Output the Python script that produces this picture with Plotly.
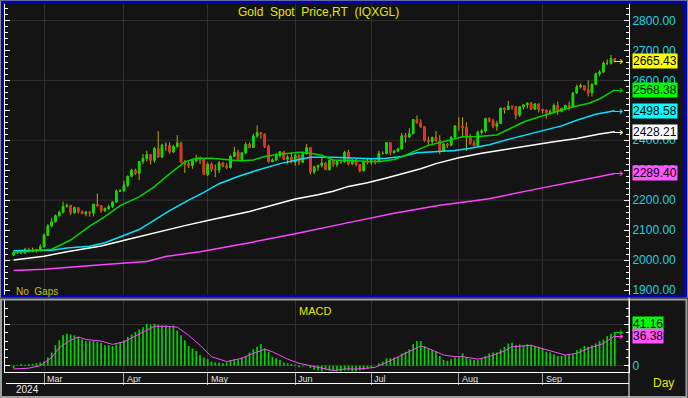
import plotly.graph_objects as go

# ------------------------------------------------------------------ data
month_labels = ["Mar", "Apr", "May", "Jun", "Jul", "Aug", "Sep"]
month_start_idx = [8, 29, 51, 74, 94, 117, 139]
year_label = "2024"
title_text = "Gold\u00a0\u00a0Spot\u00a0\u00a0Price,RT\u00a0\u00a0(IQXGL)"

open_ = [2017, 2025, 2025, 2024, 2035, 2031, 2033, 2034, 2044, 2083,
         2114, 2128, 2148, 2160, 2179, 2182, 2158, 2175, 2162, 2155,
         2160, 2157, 2186, 2181, 2165, 2172, 2178, 2194, 2230, 2232,
         2250, 2280, 2300, 2290, 2329, 2339, 2352, 2333, 2372, 2344,
         2383, 2383, 2361, 2379, 2391, 2327, 2322, 2316, 2332, 2337,
         2335, 2286, 2320, 2303, 2301, 2324, 2314, 2309, 2346, 2360,
         2336, 2358, 2386, 2376, 2414, 2425, 2421, 2379, 2329, 2334,
         2350, 2361, 2337, 2343, 2327, 2350, 2327, 2355, 2375, 2294,
         2311, 2316, 2324, 2302, 2333, 2319, 2329, 2328, 2360, 2322,
         2334, 2319, 2298, 2327, 2326, 2332, 2330, 2356, 2356, 2392,
         2359, 2364, 2371, 2415, 2411, 2422, 2469, 2459, 2445, 2400,
         2396, 2409, 2398, 2364, 2387, 2384, 2410, 2447, 2446, 2443,
         2410, 2390, 2382, 2427, 2431, 2472, 2465, 2447, 2456, 2507,
         2503, 2514, 2512, 2484, 2512, 2518, 2524, 2504, 2521, 2503,
         2500, 2493, 2495, 2516, 2497, 2506, 2516, 2512, 2558, 2578,
         2582, 2569, 2559, 2586, 2622, 2628, 2657, 2657, 2672]
high_ = [2031, 2033, 2035, 2041, 2041, 2042, 2037, 2052, 2088, 2120,
         2141, 2152, 2165, 2195, 2189, 2185, 2179, 2175, 2166, 2164,
         2163, 2188, 2222, 2184, 2176, 2185, 2196, 2236, 2236, 2265,
         2281, 2305, 2305, 2330, 2354, 2365, 2354, 2378, 2431, 2389,
         2393, 2393, 2385, 2417, 2395, 2334, 2334, 2338, 2352, 2346,
         2336, 2326, 2326, 2319, 2331, 2327, 2323, 2351, 2378, 2368,
         2359, 2393, 2393, 2422, 2450, 2427, 2422, 2385, 2340, 2358,
         2364, 2364, 2351, 2360, 2354, 2352, 2363, 2388, 2378, 2315,
         2318, 2342, 2327, 2336, 2333, 2332, 2333, 2365, 2368, 2335,
         2335, 2321, 2332, 2338, 2338, 2336, 2365, 2363, 2393, 2392,
         2366, 2375, 2425, 2424, 2440, 2469, 2483, 2470, 2447, 2412,
         2413, 2431, 2417, 2390, 2391, 2413, 2451, 2477, 2477, 2460,
         2420, 2400, 2432, 2438, 2475, 2477, 2472, 2465, 2509, 2510,
         2531, 2515, 2514, 2513, 2521, 2526, 2527, 2524, 2523, 2505,
         2503, 2503, 2523, 2529, 2509, 2519, 2529, 2560, 2586, 2589,
         2582, 2600, 2592, 2626, 2634, 2664, 2670, 2685, 2674]
low_ = [2013, 2020, 2020, 2021, 2025, 2026, 2025, 2032, 2043, 2080,
        2109, 2126, 2146, 2155, 2175, 2150, 2155, 2155, 2154, 2146,
        2145, 2146, 2180, 2158, 2161, 2168, 2174, 2191, 2228, 2228,
        2244, 2276, 2284, 2267, 2320, 2330, 2319, 2325, 2341, 2343,
        2364, 2355, 2359, 2375, 2325, 2291, 2307, 2305, 2326, 2321,
        2285, 2280, 2295, 2277, 2291, 2310, 2303, 2306, 2345, 2334,
        2330, 2354, 2373, 2376, 2409, 2405, 2374, 2325, 2326, 2331,
        2341, 2335, 2322, 2323, 2315, 2317, 2326, 2353, 2286, 2287,
        2298, 2309, 2302, 2299, 2311, 2310, 2322, 2326, 2316, 2317,
        2313, 2293, 2298, 2319, 2318, 2319, 2327, 2353, 2353, 2350,
        2354, 2360, 2370, 2392, 2409, 2421, 2455, 2442, 2395, 2384,
        2385, 2396, 2353, 2364, 2375, 2380, 2409, 2432, 2410, 2364,
        2385, 2381, 2382, 2419, 2425, 2460, 2440, 2432, 2455, 2489,
        2500, 2502, 2470, 2478, 2503, 2506, 2502, 2503, 2493, 2490,
        2472, 2486, 2490, 2485, 2493, 2500, 2500, 2511, 2556, 2573,
        2565, 2546, 2546, 2586, 2614, 2624, 2651, 2653, 2660]
close_ = [2025, 2025, 2024, 2035, 2031, 2033, 2034, 2044, 2083, 2114,
          2128, 2148, 2160, 2179, 2182, 2158, 2175, 2162, 2155, 2160,
          2157, 2186, 2181, 2165, 2172, 2178, 2194, 2230, 2232, 2250,
          2280, 2300, 2290, 2329, 2339, 2352, 2333, 2372, 2344, 2383,
          2383, 2361, 2379, 2391, 2327, 2322, 2316, 2332, 2337, 2335,
          2286, 2320, 2303, 2301, 2324, 2314, 2309, 2346, 2360, 2336,
          2358, 2386, 2376, 2414, 2425, 2421, 2379, 2329, 2334, 2350,
          2361, 2337, 2343, 2327, 2350, 2327, 2355, 2375, 2294, 2311,
          2316, 2324, 2302, 2333, 2319, 2329, 2328, 2360, 2322, 2334,
          2319, 2298, 2327, 2326, 2332, 2330, 2356, 2356, 2392, 2359,
          2364, 2371, 2415, 2411, 2422, 2469, 2459, 2445, 2400, 2396,
          2409, 2398, 2364, 2387, 2384, 2410, 2447, 2446, 2443, 2410,
          2390, 2382, 2427, 2431, 2472, 2465, 2447, 2456, 2507, 2503,
          2514, 2512, 2484, 2512, 2518, 2524, 2504, 2521, 2503, 2500,
          2493, 2495, 2516, 2497, 2506, 2516, 2512, 2558, 2578, 2582,
          2569, 2559, 2586, 2622, 2628, 2657, 2657, 2672, 2665.43]
days = list(range(len(close_)))

ma_green_idx = [0, 10, 15, 20, 24, 28, 33, 37, 41, 45, 48, 52, 57, 60, 63, 66, 69, 72, 75,
                78, 81, 84, 88, 92, 96, 100, 103, 106, 109, 113, 116, 118, 122, 127, 130,
                134, 138, 142, 147, 151, 154, 158]
ma_green = [2025, 2036, 2067, 2113, 2145, 2182, 2211, 2245, 2288, 2328, 2340, 2340, 2334,
            2332, 2334, 2346, 2352, 2357, 2360, 2357, 2350, 2334, 2332, 2328, 2328, 2336,
            2350, 2367, 2383, 2395, 2405, 2412, 2413, 2418, 2436, 2461, 2478, 2493, 2512,
            2523, 2538, 2568.38]
ma_cyan_idx = [0, 10, 14, 20, 24, 28, 33, 37, 41, 46, 50, 54, 59, 64, 70, 75, 78, 84, 89,
               94, 98, 102, 106, 111, 116, 120, 125, 130, 135, 139, 144, 148, 153, 158]
ma_cyan = [2031, 2033, 2040, 2046, 2058, 2077, 2102, 2133, 2165, 2200, 2226, 2255, 2279,
           2300, 2322, 2336, 2343, 2343, 2340, 2338, 2340, 2346, 2358, 2362, 2366, 2373,
           2385, 2403, 2420, 2432, 2448, 2467, 2487, 2498.58]
ma_white_idx = [0, 8, 14, 23, 31, 38, 45, 51, 58, 62, 68, 74, 80, 84, 88, 93, 98, 103, 107,
                111, 117, 123, 130, 136, 142, 148, 154, 158]
ma_white = [2000, 2013, 2028, 2047, 2072, 2094, 2115, 2132, 2151, 2162, 2183, 2204, 2218,
            2230, 2246, 2258, 2274, 2290, 2305, 2322, 2342, 2357, 2371, 2385, 2395, 2406,
            2421, 2428.21]
ma_mag_idx = [0, 8, 24, 35, 40, 49, 62, 75, 88, 100, 112, 125, 137, 150, 158]
ma_mag = [1965, 1969, 1985, 1995, 2012, 2028, 2058, 2090, 2125, 2156, 2183, 2205, 2236,
          2270, 2289.40]

# MACD panel
macd_hist = [-3, 1, 2, 1, 2, 2, 3, 4,
             5, 10, 16, 25, 31, 37, 39, 38, 37, 35,
             32, 30, 30, 30, 29, 28, 25, 25, 24, 26,
             29, 31, 35, 38, 41, 44, 47, 51, 50, 51,
             50, 49, 49, 48, 49, 43, 37, 31, 24, 21,
             18, 13, 10, 8, 5, 4, 4, 3, 4, 7,
             8, 8, 10, 12, 16, 20, 23, 26, 21, 17,
             11, 9, 7, 4, 3, 2, 1, -2, -1, 0,
             -3, -5, -6, -7, -5, -6, -6, -7, -7, -6,
             -6, -7, -7, -6, -5, -4,
             -2, 0, 3, 5, 9, 9, 10, 11, 15, 17,
             20, 26, 30, 30, 24, 21, 19, 17, 12, 7,
             6, 8, 10, 11, 15, 10, 8, 7, 7, 9,
             12, 15, 16, 16, 20, 23, 27, 28, 25, 26,
             25, 26, 25, 24, 23, 21, 17, 16, 14, 12,
             12, 13, 13, 14, 19, 21, 24, 23, 25, 27,
             30, 32, 36, 39, 41.16]
signal_idx = [0, 4, 7, 10, 12, 15, 17, 19, 23, 26, 29, 32, 34, 37, 40, 43, 46, 49, 52, 56,
              60, 63, 66, 68, 72, 75, 78, 81, 84, 87, 90, 93, 95, 99, 103, 107, 109, 113,
              116, 118, 122, 125, 129, 131, 134, 136, 138, 142, 145, 148, 151, 155, 158]
signal_vals = [-4, -3, 0, 10, 22, 31, 35, 32, 30, 26, 29, 36, 41, 48, 48, 47, 37, 25, 11, 5,
               9, 15, 20, 17, 8, 3, 0, -3, -6, -4, -4, -3, -2, 6, 15, 24, 21, 13,
               11, 11, 8, 11, 18, 23, 24, 25, 22, 17, 13, 15, 21, 27, 36.38]

last_price = 2665.43

# ------------------------------------------------------------------ style
W, H = 688, 398
def fx(p):
    return p / W
def fy(p):
    return 1 - p / H

FONT = "Liberation Sans, Arial, sans-serif"
ARROW_FONT = "DejaVu Sans, sans-serif"
BG = "#141414"
GRID = "#303030"
CYAN_TXT = "#1ed2e6"
UP = "#00e000"
DN = "#f02828"
WICK = "#b4aa00"
C_GREEN = "#00d400"
C_CYAN = "#00e4ff"
C_WHITE = "#ffffff"
C_MAG = "#ff44ff"
YEL = "#e6e600"
X_RANGE = [-2.26, 161.73]

fig = go.Figure()

for idx, vals, col in [(ma_mag_idx, ma_mag, C_MAG), (ma_white_idx, ma_white, C_WHITE),
                       (ma_cyan_idx, ma_cyan, C_CYAN), (ma_green_idx, ma_green, C_GREEN)]:
    fig.add_trace(go.Scatter(x=idx, y=vals, mode="lines", line=dict(color=col, width=1.5),
                             xaxis="x", yaxis="y", hoverinfo="skip", showlegend=False))

fig.add_trace(go.Candlestick(
    x=days, open=open_, high=high_, low=low_, close=close_,
    increasing=dict(line=dict(color=WICK, width=1), fillcolor=WICK),
    decreasing=dict(line=dict(color=WICK, width=1), fillcolor=WICK),
    whiskerwidth=0, xaxis="x", yaxis="y", hoverinfo="skip", showlegend=False))
body_hi = [max(o, c) for o, c in zip(open_, close_)]
body_lo = [min(o, c) for o, c in zip(open_, close_)]
fig.add_trace(go.Candlestick(
    x=days, open=open_, high=body_hi, low=body_lo, close=close_,
    increasing=dict(line=dict(color=UP, width=1), fillcolor=UP),
    decreasing=dict(line=dict(color=DN, width=1), fillcolor=DN),
    whiskerwidth=0, xaxis="x", yaxis="y", hoverinfo="skip", showlegend=False))

fig.add_trace(go.Bar(x=days, y=macd_hist, xaxis="x2", yaxis="y2", width=0.45,
                     marker=dict(color=C_GREEN, line=dict(width=0)),
                     hoverinfo="skip", showlegend=False))
fig.add_trace(go.Scatter(x=signal_idx, y=signal_vals, xaxis="x2", yaxis="y2", mode="lines",
                         line=dict(color=C_MAG, width=1), hoverinfo="skip", showlegend=False))

axis_font = dict(color=CYAN_TXT, size=12, family=FONT)
fig.update_layout(
    width=W, height=H, margin=dict(l=0, r=0, t=0, b=0),
    paper_bgcolor=BG, plot_bgcolor=BG, showlegend=False, hovermode=False,
    boxgap=0.45, barmode="overlay",
    xaxis=dict(domain=[fx(5), fx(629)], range=X_RANGE, anchor="y",
               tickmode="array", tickvals=month_start_idx, showgrid=True, gridcolor=GRID,
               gridwidth=1, ticks="", showticklabels=False, zeroline=False, showline=False,
               rangeslider=dict(visible=False), fixedrange=True),
    yaxis=dict(domain=[fy(296), fy(3)], range=[1880, 2858.4], anchor="x", side="right",
               tick0=0, dtick=100, tickformat=".2f", ticks="inside", ticklen=5, tickwidth=1,
               tickcolor="white",
               minor=dict(dtick=20, tick0=0, ticks="inside", ticklen=3, tickcolor="white",
                          tickwidth=1, showgrid=False),
               showline=True, linecolor="white", linewidth=1, mirror="ticks",
               showgrid=False, zeroline=False, tickfont=axis_font, fixedrange=True),
    xaxis2=dict(domain=[fx(5), fx(629)], range=X_RANGE, anchor="y2",
                tickmode="array", tickvals=month_start_idx, showgrid=True, gridcolor=GRID,
                ticks="outside", ticklen=12, tickwidth=1, tickcolor="#a8a8a8",
                showticklabels=False, showline=True, linecolor="white", linewidth=1,
                zeroline=False, fixedrange=True),
    yaxis2=dict(domain=[fy(372), fy(300)], range=[-7.7, 80.1], anchor="x2", side="right",
                tick0=0, dtick=50, ticks="inside", ticklen=5, tickwidth=1, tickcolor="white",
                minor=dict(dtick=10, tick0=0, ticks="inside", ticklen=3, tickcolor="white",
                           tickwidth=1, showgrid=False),
                showline=True, linecolor="white", linewidth=1, mirror="ticks",
                showgrid=True, gridcolor=GRID, zeroline=False, tickfont=axis_font,
                fixedrange=True),
)

shapes = []
for lv in [2000, 2200, 2400, 2600, 2800]:
    shapes.append(dict(type="line", xref="paper", yref="y", x0=fx(5), x1=fx(629), y0=lv, y1=lv,
                       line=dict(color=GRID, width=1), layer="below"))
shapes += [
    dict(type="rect", xref="paper", yref="paper", x0=fx(0.5), x1=fx(687.5), y0=fy(297.5),
         y1=fy(0.5), line=dict(color="#8c8c8c", width=1)),
    dict(type="rect", xref="paper", yref="paper", x0=fx(2.5), x1=fx(685), y0=fy(296.2),
         y1=fy(2.2), line=dict(color="#0000c0", width=3)),
    dict(type="rect", xref="paper", yref="paper", x0=fx(1), x1=fx(686.5), y0=fy(397),
         y1=fy(299.5), line=dict(color="#a0a0a0", width=2)),
    dict(type="line", xref="paper", yref="paper", x0=fx(629), x1=fx(629), y0=fy(297.5),
         y1=fy(397), line=dict(color="white", width=1)),
    dict(type="line", xref="paper", yref="paper", x0=fx(6), x1=fx(629), y0=fy(383.5),
         y1=fy(383.5), line=dict(color="white", width=1)),
]
fig.update_layout(shapes=shapes)

ann = []
def txt(x, y, s, color, size, xanchor="center"):
    ann.append(dict(xref="paper", yref="paper", x=fx(x), y=fy(y), text=s, showarrow=False,
                    xanchor=xanchor, yanchor="middle", font=dict(color=color, size=size, family=FONT)))

txt(318, 12, title_text, YEL, 12)
txt(14, 291.5, "No\u00a0\u00a0Gaps", "#c8c000", 10, "left")
txt(315, 311, "MACD", YEL, 11)
txt(663, 383, "Day", YEL, 12)
txt(14, 389.5, year_label, "#e8e8e8", 10, "left")

for m, i in zip(month_labels, month_start_idx):
    ann.append(dict(xref="x2", yref="paper", x=i, y=fy(378.5), text=m, showarrow=False,
                    xanchor="left", yanchor="middle", xshift=1,
                    font=dict(color="#e0e0e0", size=9, family=FONT)))

main_tags = [(last_price, "#ffff00", YEL), (ma_green[-1], "#00ff00", C_GREEN),
             (ma_cyan[-1], "#00ffff", C_CYAN), (ma_white[-1], "#ffffff", C_WHITE),
             (ma_mag[-1], "#ff55ff", C_MAG)]
for v, bg, arrow_col in main_tags:
    ann.append(dict(xref="paper", yref="y", x=fx(632), y=v, text=f"{v:.2f}", showarrow=False,
                    xanchor="left", yanchor="middle", bgcolor=bg, borderpad=0,
                    font=dict(color="black", size=12, family=FONT)))
    ann.append(dict(xref="paper", yref="y", x=fx(625), y=v, text="→", showarrow=False,
                    xanchor="right", yanchor="middle",
                    font=dict(color=arrow_col, size=12, family=ARROW_FONT)))

macd_tags = [(macd_hist[-1], "#00ff00", C_GREEN, 8), (signal_vals[-1], "#ff55ff", C_MAG, 0)]
for v, bg, arrow_col, shift in macd_tags:
    ann.append(dict(xref="paper", yref="y2", x=fx(632), y=v, text=f"{v:.2f}", showarrow=False,
                    xanchor="left", yanchor="middle", bgcolor=bg, borderpad=0, yshift=shift,
                    font=dict(color="black", size=12, family=FONT)))
    ann.append(dict(xref="paper", yref="y2", x=fx(625), y=v, text="→", showarrow=False,
                    xanchor="right", yanchor="middle",
                    font=dict(color=arrow_col, size=12, family=ARROW_FONT)))

fig.update_layout(annotations=ann)
fig.write_html("out.html", config={"displayModeBar": False, "staticPlot": True},
               post_script="document.body.style.margin='0';document.body.style.padding='0';"
                           "document.body.style.background='%s';" % BG)
